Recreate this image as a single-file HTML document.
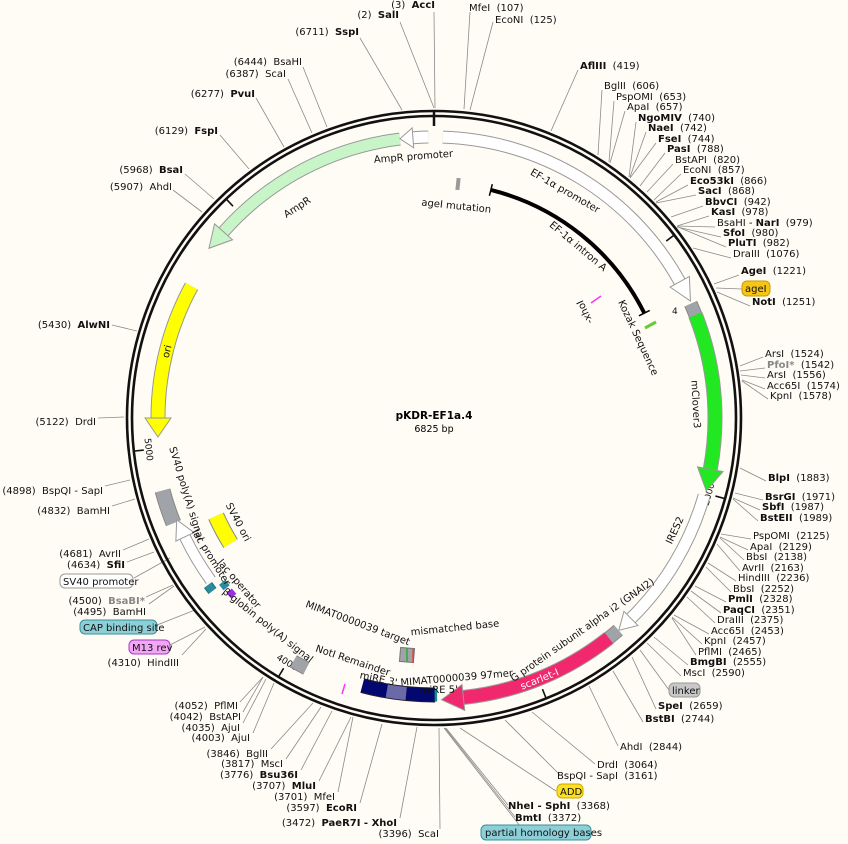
<!DOCTYPE html>
<html><head><meta charset="utf-8"><style>
html,body{margin:0;padding:0;background:#fffcf5;}
svg{display:block;font-family:"DejaVu Sans","Liberation Sans",sans-serif;font-size:10px;}
.b{font-weight:bold}
.g{fill:#888;font-weight:bold}
</style></head><body>
<svg width="848" height="844" viewBox="0 0 848 844" xmlns="http://www.w3.org/2000/svg">
<rect width="848" height="844" fill="#fffcf5"/>
<g stroke="#8a8a8a" stroke-width="0.8" fill="none">
<line x1="434" y1="12" x2="435" y2="108"/>
<line x1="400" y1="22" x2="434" y2="108"/>
<line x1="360" y1="38" x2="402" y2="110"/>
<line x1="470" y1="12" x2="464" y2="109"/>
<line x1="493" y1="22" x2="470" y2="110"/>
<line x1="578" y1="70" x2="551" y2="131"/>
<line x1="602" y1="90" x2="598" y2="155"/>
<line x1="614" y1="101" x2="609" y2="162"/>
<line x1="625" y1="111" x2="610" y2="163"/>
<line x1="636" y1="122" x2="629" y2="177"/>
<line x1="646" y1="132" x2="630" y2="177"/>
<line x1="656" y1="143" x2="630" y2="178"/>
<line x1="665" y1="153" x2="640" y2="186"/>
<line x1="673" y1="164" x2="647" y2="192"/>
<line x1="681" y1="174" x2="654" y2="200"/>
<line x1="688" y1="185" x2="656" y2="202"/>
<line x1="696" y1="195" x2="656" y2="203"/>
<line x1="703" y1="206" x2="671" y2="217"/>
<line x1="709" y1="216" x2="677" y2="226"/>
<line x1="715" y1="227" x2="677" y2="226"/>
<line x1="721" y1="237" x2="677" y2="227"/>
<line x1="726" y1="247" x2="678" y2="227"/>
<line x1="731" y1="258" x2="693" y2="248"/>
<line x1="739" y1="275" x2="714" y2="284"/>
<line x1="742" y1="289" x2="716" y2="288"/>
<line x1="750" y1="306" x2="717" y2="292"/>
<line x1="763" y1="357" x2="740" y2="366"/>
<line x1="765" y1="368" x2="740" y2="371"/>
<line x1="765" y1="378" x2="741" y2="375"/>
<line x1="765" y1="389" x2="742" y2="380"/>
<line x1="768" y1="399" x2="742" y2="381"/>
<line x1="766" y1="481" x2="740" y2="468"/>
<line x1="763" y1="500" x2="735" y2="493"/>
<line x1="760" y1="510" x2="733" y2="498"/>
<line x1="758" y1="521" x2="733" y2="499"/>
<line x1="751" y1="539" x2="721" y2="534"/>
<line x1="748" y1="550" x2="720" y2="537"/>
<line x1="744" y1="560" x2="720" y2="538"/>
<line x1="740" y1="571" x2="717" y2="544"/>
<line x1="736" y1="581" x2="708" y2="563"/>
<line x1="731" y1="592" x2="706" y2="567"/>
<line x1="726" y1="602" x2="695" y2="586"/>
<line x1="721" y1="613" x2="691" y2="591"/>
<line x1="715" y1="623" x2="687" y2="597"/>
<line x1="709" y1="634" x2="674" y2="615"/>
<line x1="702" y1="644" x2="672" y2="617"/>
<line x1="696" y1="655" x2="672" y2="618"/>
<line x1="688" y1="665" x2="654" y2="637"/>
<line x1="681" y1="676" x2="647" y2="643"/>
<line x1="669" y1="690" x2="640" y2="650"/>
<line x1="656" y1="709" x2="632" y2="657"/>
<line x1="643" y1="722" x2="613" y2="671"/>
<line x1="618" y1="746" x2="589" y2="686"/>
<line x1="595" y1="764" x2="532" y2="712"/>
<line x1="560" y1="775" x2="505" y2="720"/>
<line x1="556" y1="791" x2="460" y2="728"/>
<line x1="508" y1="805" x2="446" y2="728"/>
<line x1="515" y1="817" x2="445" y2="728"/>
<line x1="520" y1="826" x2="444" y2="728"/>
<line x1="440" y1="829" x2="439" y2="728"/>
<line x1="400" y1="818" x2="417" y2="727"/>
<line x1="360" y1="803" x2="382" y2="724"/>
<line x1="338" y1="792" x2="353" y2="717"/>
<line x1="319" y1="781" x2="351" y2="717"/>
<line x1="301" y1="770" x2="332" y2="711"/>
<line x1="286" y1="759" x2="321" y2="707"/>
<line x1="271" y1="749" x2="313" y2="703"/>
<line x1="253" y1="733" x2="274" y2="683"/>
<line x1="243" y1="723" x2="266" y2="679"/>
<line x1="243" y1="712" x2="263" y2="677"/>
<line x1="240" y1="702" x2="263" y2="677"/>
<line x1="182" y1="655" x2="206" y2="629"/>
<line x1="170" y1="645" x2="205" y2="627"/>
<line x1="157" y1="625" x2="195" y2="610"/>
<line x1="149" y1="604" x2="174" y2="586"/>
<line x1="146" y1="597" x2="173" y2="585"/>
<line x1="134" y1="578" x2="170" y2="558"/>
<line x1="127" y1="562" x2="154" y2="552"/>
<line x1="123" y1="550" x2="149" y2="539"/>
<line x1="112" y1="506" x2="135" y2="499"/>
<line x1="105" y1="486" x2="130" y2="480"/>
<line x1="98" y1="418" x2="124" y2="417"/>
<line x1="112" y1="325" x2="137" y2="331"/>
<line x1="173" y1="190" x2="202" y2="212"/>
<line x1="185" y1="174" x2="214" y2="199"/>
<line x1="220" y1="135" x2="249" y2="169"/>
<line x1="256" y1="98" x2="284" y2="147"/>
<line x1="288" y1="79" x2="312" y2="133"/>
<line x1="303" y1="67" x2="327" y2="127"/>
</g>
<circle cx="434" cy="418" r="307" fill="none" stroke="#111" stroke-width="2.6"/>
<circle cx="434" cy="418" r="302" fill="none" stroke="#111" stroke-width="2.6"/>
<g stroke="#111" stroke-width="1.6">
<line x1="434" y1="112" x2="434" y2="126" stroke-width="2.5"/>
<line x1="434" y1="116" x2="434" y2="126" transform="rotate(52.7 434 418)"/>
<line x1="434" y1="116" x2="434" y2="126" transform="rotate(105.5 434 418)"/>
<line x1="434" y1="116" x2="434" y2="126" transform="rotate(158.2 434 418)"/>
<line x1="434" y1="116" x2="434" y2="126" transform="rotate(211 434 418)"/>
<line x1="434" y1="116" x2="434" y2="126" transform="rotate(263.7 434 418)"/>
<line x1="434" y1="116" x2="434" y2="126" transform="rotate(316.5 434 418)"/>
</g>
<g font-size="9" text-anchor="middle" fill="#111">
<text x="434" y="138" transform="rotate(52.7 434 418)">1000</text>
<text x="434" y="706" transform="rotate(-74.5 434 418)">2000</text>
<text x="434" y="706" transform="rotate(-21.8 434 418)">3000</text>
<text x="434" y="706" transform="rotate(31 434 418)">4000</text>
<text x="434" y="708" transform="rotate(83.7 434 418)">5000</text>
<text x="434" y="138" transform="rotate(-43.5 434 418)">6000</text>
</g>
<g transform="rotate(-90 434 418)" fill="none">
<circle cx="434" cy="418" r="281" stroke="#999" stroke-width="13" stroke-dasharray="290.3 2000" stroke-dashoffset="-8.8"/>
<circle cx="434" cy="418" r="281" stroke="#fff" stroke-width="11" stroke-dasharray="290.3 2000" stroke-dashoffset="-8.8"/>
<circle cx="434" cy="418" r="281" stroke="#999" stroke-width="13" stroke-dasharray="15.2 2000" stroke-dashoffset="-1744.5"/>
<circle cx="434" cy="418" r="281" stroke="#fff" stroke-width="11" stroke-dasharray="15.2 2000" stroke-dashoffset="-1744.5"/>
<circle cx="434" cy="418" r="281" stroke="#999" stroke-width="13" stroke-dasharray="203.5 2000" stroke-dashoffset="-1527.7"/>
<circle cx="434" cy="418" r="281" stroke="#c8f5c8" stroke-width="11" stroke-dasharray="203.5 2000" stroke-dashoffset="-1527.7"/>
<circle cx="434" cy="418" r="276" stroke="#999" stroke-width="15" stroke-dasharray="137.3 2000" stroke-dashoffset="-1300.6"/>
<circle cx="434" cy="418" r="276" stroke="#ffff00" stroke-width="13" stroke-dasharray="137.3 2000" stroke-dashoffset="-1300.6"/>
<circle cx="434" cy="418" r="281" stroke="#888" stroke-width="14" stroke-dasharray="12.3 2000" stroke-dashoffset="-323.7"/>
<circle cx="434" cy="418" r="281" stroke="#a0a4a8" stroke-width="12" stroke-dasharray="12.3 2000" stroke-dashoffset="-323.7"/>
<circle cx="434" cy="418" r="281" stroke="#999" stroke-width="15" stroke-dasharray="156.9 2000" stroke-dashoffset="-335.9"/>
<circle cx="434" cy="418" r="281" stroke="#22e822" stroke-width="13" stroke-dasharray="156.9 2000" stroke-dashoffset="-335.9"/>
<circle cx="434" cy="418" r="281" stroke="#999" stroke-width="13" stroke-dasharray="144.7 2000" stroke-dashoffset="-519.9"/>
<circle cx="434" cy="418" r="281" stroke="#fff" stroke-width="11" stroke-dasharray="144.7 2000" stroke-dashoffset="-519.9"/>
<circle cx="434" cy="418" r="281" stroke="#888" stroke-width="14" stroke-dasharray="12.3 2000" stroke-dashoffset="-681.7"/>
<circle cx="434" cy="418" r="281" stroke="#a0a4a8" stroke-width="12" stroke-dasharray="12.3 2000" stroke-dashoffset="-681.7"/>
<circle cx="434" cy="418" r="281" stroke="#999" stroke-width="15" stroke-dasharray="159.4 2000" stroke-dashoffset="-694"/>
<circle cx="434" cy="418" r="281" stroke="#f2286e" stroke-width="13" stroke-dasharray="159.4 2000" stroke-dashoffset="-694"/>
<circle cx="434" cy="418" r="277" stroke="#222" stroke-width="15" stroke-dasharray="73.6 2000" stroke-dashoffset="-869"/>
<circle cx="434" cy="418" r="277" stroke="#020870" stroke-width="13" stroke-dasharray="73.6 2000" stroke-dashoffset="-869"/>
<circle cx="434" cy="418" r="277" stroke="#6a6aa8" stroke-width="13" stroke-dasharray="19.6 2000" stroke-dashoffset="-898"/>
<circle cx="434" cy="418" r="277" stroke="#1a8a8a" stroke-width="13" stroke-dasharray="2.5 2000" stroke-dashoffset="-867"/>
<circle cx="434" cy="418" r="281" stroke="#888" stroke-width="14" stroke-dasharray="14.7 2000" stroke-dashoffset="-1015.2"/>
<circle cx="434" cy="418" r="281" stroke="#a0a4a8" stroke-width="12" stroke-dasharray="14.7 2000" stroke-dashoffset="-1015.2"/>
<circle cx="434" cy="418" r="281" stroke="#888" stroke-width="16" stroke-dasharray="34.3 2000" stroke-dashoffset="-1216.3"/>
<circle cx="434" cy="418" r="281" stroke="#a0a4a8" stroke-width="14" stroke-dasharray="34.3 2000" stroke-dashoffset="-1216.3"/>
<circle cx="434" cy="418" r="276" stroke="#999" stroke-width="12" stroke-dasharray="51.5 2000" stroke-dashoffset="-1127"/>
<circle cx="434" cy="418" r="276" stroke="#fff" stroke-width="10" stroke-dasharray="51.5 2000" stroke-dashoffset="-1127"/>
<circle cx="434" cy="418" r="281" stroke="#1e6f7a" stroke-width="10" stroke-dasharray="7.4 2000" stroke-dashoffset="-1137.8"/>
<circle cx="434" cy="418" r="281" stroke="#2a8c9a" stroke-width="8" stroke-dasharray="7.4 2000" stroke-dashoffset="-1137.8"/>
<circle cx="434" cy="418" r="268" stroke="#2a8c9a" stroke-width="8" stroke-dasharray="7 2000" stroke-dashoffset="-1079"/>
<circle cx="434" cy="418" r="268" stroke="#9a30e0" stroke-width="7" stroke-dasharray="7 2000" stroke-dashoffset="-1068"/>
<circle cx="434" cy="418" r="239" stroke="#888" stroke-width="17" stroke-dasharray="31 2000" stroke-dashoffset="-994"/>
<circle cx="434" cy="418" r="239" stroke="#ffff00" stroke-width="15" stroke-dasharray="31 2000" stroke-dashoffset="-994"/>
<circle cx="434" cy="418" r="235" stroke="#000" stroke-width="4" stroke-dasharray="203 2000" stroke-dashoffset="-57.4"/>
</g>
<g stroke="#999" stroke-width="1">
<polygon points="434,126 456,137 434,148" fill="#fff" transform="rotate(61 434 418)"/>
<polygon points="434,127 421,137 434,147" fill="#fff" transform="rotate(-4.3 434 418)"/>
<polygon points="434,125 412,137 434,149" fill="#c8f5c8" transform="rotate(-48.5 434 418)"/>
<polygon points="434,129 415,142 434,155" fill="#ffff00" transform="rotate(-90 434 418)"/>
<polygon points="434,124 456,137 434,150" fill="#22e822" transform="rotate(100.5 434 418)"/>
<polygon points="434,127 451,137 434,147" fill="#fff" transform="rotate(135.5 434 418)"/>
<polygon points="434,124 456,137 434,150" fill="#f2286e" transform="rotate(174 434 418)"/>
<polygon points="434,132 453,142 434,152" fill="#fff" transform="rotate(244.5 434 418)"/>
</g>
<line x1="434" y1="177" x2="434" y2="189" stroke="#000" stroke-width="1.5" transform="rotate(14 434 418)"/>
<line x1="434" y1="177" x2="434" y2="189" stroke="#000" stroke-width="1.5" transform="rotate(63.5 434 418)"/>
<rect x="456" y="178" width="4" height="12" fill="#999" transform="rotate(6 458 184)"/>
<line x1="645" y1="328" x2="656" y2="322" stroke="#6c3" stroke-width="3"/>
<line x1="591" y1="303" x2="601" y2="296" stroke="#f3f" stroke-width="1.5"/>
<line x1="342" y1="694" x2="345" y2="684" stroke="#f3f" stroke-width="1.5"/>
<rect x="400" y="648" width="14" height="14" fill="#a0a4a8" stroke="#777" stroke-width="1" transform="rotate(5 407 655)"/>
<line x1="407" y1="648" x2="407" y2="662" stroke="#3a3" stroke-width="1.5"/>
<line x1="413" y1="649" x2="413" y2="663" stroke="#e33" stroke-width="1.2"/>
<g fill="#111" text-anchor="middle">
<text x="434" y="159" transform="rotate(-4.5 434 418)">AmpR promoter</text>
<text x="434" y="159" transform="rotate(30 434 418)">EF-1α promoter</text>
<text x="434" y="170" transform="rotate(-33 434 418)">AmpR</text>
<text x="434" y="197" transform="rotate(40 434 418)">EF-1α intron A</text>
<text x="434" y="208" transform="rotate(6 434 418)">ageI mutation</text>
<text x="434" y="159" transform="rotate(87 434 418)">mClover3</text>
<text x="434" y="146" transform="rotate(-76 434 418)">ori</text>
<text x="434" y="680" transform="rotate(73 434 418)">SV40 poly(A) signal</text>
<text x="434" y="643" transform="rotate(62 434 418)">SV40 ori</text>
<text x="434" y="684" transform="rotate(58 434 418)">lac promoter</text>
<text x="434" y="677" transform="rotate(49.6 434 418)">lac operator</text>
<text x="434" y="687" transform="rotate(38.7 434 418)">β-globin poly(A) signal</text>
<text x="434" y="687" transform="rotate(-65 434 418)">IRES2</text>
<text x="434" y="680" transform="rotate(-35 434 418)">G protein subunit alpha i2 (GNAI2)</text>
<text x="434" y="703" transform="rotate(-22 434 418)" fill="#fff">scarlet-I</text>
<text x="434" y="640" transform="rotate(20.4 434 418)">MIMAT0000039 target</text>
<text x="434" y="632" transform="rotate(-5.7 434 418)">mismatched base</text>
<text x="434" y="677" transform="rotate(18.5 434 418)">NotI Remainder</text>
<text x="434" y="682" transform="rotate(-5 434 418)">MIMAT0000039 97mer</text>
<text x="434" y="688" transform="rotate(12 434 418)">miRE 3'</text>
<text x="434" y="693" transform="rotate(-1 434 418)">miRE 5'</text>
</g>
<text x="618" y="302" fill="#111" transform="rotate(65 618 302)">Kozak Sequence</text>
<text x="593" y="322" fill="#111" transform="rotate(-115 593 322)">-xhoI</text>
<text x="672" y="314" fill="#111" font-size="9">4</text>
<text x="434" y="419" text-anchor="middle" class="b" font-size="10.5">pKDR-EF1a.4</text>
<text x="434" y="432" text-anchor="middle" font-size="9.5">6825 bp</text>
<rect x="742" y="281" width="28" height="15" rx="5" fill="#f5c518" stroke="#c99a00"/>
<text x="745" y="292" fill="#111">ageI</text>
<rect x="669" y="683" width="31" height="14" rx="5" fill="#c8c8c8" stroke="#999"/>
<text x="672" y="694" fill="#111">linker</text>
<rect x="557" y="784" width="26" height="14" rx="5" fill="#ffe020" stroke="#c9a800"/>
<text x="560" y="795" fill="#111">ADD</text>
<rect x="481" y="825" width="110" height="15" rx="5" fill="#8ccfd6" stroke="#3a8f99"/>
<text x="485" y="836" fill="#111">partial homology bases</text>
<rect x="80" y="620" width="77" height="14" rx="5" fill="#8ccfd6" stroke="#3a8f99"/>
<text x="83" y="631" fill="#111">CAP binding site</text>
<rect x="129" y="640" width="41" height="14" rx="5" fill="#f3a6f6" stroke="#a33cc8"/>
<text x="132" y="651" fill="#111">M13 rev</text>
<rect x="60" y="574" width="73" height="14" rx="5" fill="#fff" stroke="#999"/>
<text x="63" y="585" fill="#111">SV40 promoter</text>
<g fill="#111">
<text x="469" y="11">MfeI&#160; (107)</text>
<text x="495" y="23">EcoNI&#160; (125)</text>
<text x="580" y="69"><tspan class="b">AflIII</tspan>&#160; (419)</text>
<text x="604" y="89">BglII&#160; (606)</text>
<text x="616" y="100">PspOMI&#160; (653)</text>
<text x="627" y="110">ApaI&#160; (657)</text>
<text x="638" y="121"><tspan class="b">NgoMIV</tspan>&#160; (740)</text>
<text x="648" y="131"><tspan class="b">NaeI</tspan>&#160; (742)</text>
<text x="658" y="142"><tspan class="b">FseI</tspan>&#160; (744)</text>
<text x="667" y="152"><tspan class="b">PasI</tspan>&#160; (788)</text>
<text x="675" y="163">BstAPI&#160; (820)</text>
<text x="683" y="173">EcoNI&#160; (857)</text>
<text x="690" y="184"><tspan class="b">Eco53kI</tspan>&#160; (866)</text>
<text x="698" y="194"><tspan class="b">SacI</tspan>&#160; (868)</text>
<text x="705" y="205"><tspan class="b">BbvCI</tspan>&#160; (942)</text>
<text x="711" y="215"><tspan class="b">KasI</tspan>&#160; (978)</text>
<text x="717" y="226">BsaHI - <tspan class="b">NarI</tspan>&#160; (979)</text>
<text x="723" y="236"><tspan class="b">SfoI</tspan>&#160; (980)</text>
<text x="728" y="246"><tspan class="b">PluTI</tspan>&#160; (982)</text>
<text x="733" y="257">DraIII&#160; (1076)</text>
<text x="741" y="274"><tspan class="b">AgeI</tspan>&#160; (1221)</text>
<text x="752" y="305"><tspan class="b">NotI</tspan>&#160; (1251)</text>
<text x="765" y="357">ArsI&#160; (1524)</text>
<text x="767" y="368"><tspan class="g">PfoI*</tspan>&#160; (1542)</text>
<text x="767" y="378">ArsI&#160; (1556)</text>
<text x="767" y="389">Acc65I&#160; (1574)</text>
<text x="770" y="399">KpnI&#160; (1578)</text>
<text x="768" y="481"><tspan class="b">BlpI</tspan>&#160; (1883)</text>
<text x="765" y="500"><tspan class="b">BsrGI</tspan>&#160; (1971)</text>
<text x="762" y="510"><tspan class="b">SbfI</tspan>&#160; (1987)</text>
<text x="760" y="521"><tspan class="b">BstEII</tspan>&#160; (1989)</text>
<text x="753" y="539">PspOMI&#160; (2125)</text>
<text x="750" y="550">ApaI&#160; (2129)</text>
<text x="746" y="560">BbsI&#160; (2138)</text>
<text x="742" y="571">AvrII&#160; (2163)</text>
<text x="738" y="581">HindIII&#160; (2236)</text>
<text x="733" y="592">BbsI&#160; (2252)</text>
<text x="728" y="602"><tspan class="b">PmlI</tspan>&#160; (2328)</text>
<text x="723" y="613"><tspan class="b">PaqCI</tspan>&#160; (2351)</text>
<text x="717" y="623">DraIII&#160; (2375)</text>
<text x="711" y="634">Acc65I&#160; (2453)</text>
<text x="704" y="644">KpnI&#160; (2457)</text>
<text x="698" y="655">PflMI&#160; (2465)</text>
<text x="690" y="665"><tspan class="b">BmgBI</tspan>&#160; (2555)</text>
<text x="683" y="676">MscI&#160; (2590)</text>
<text x="658" y="709"><tspan class="b">SpeI</tspan>&#160; (2659)</text>
<text x="645" y="722"><tspan class="b">BstBI</tspan>&#160; (2744)</text>
<text x="620" y="750">AhdI&#160; (2844)</text>
<text x="597" y="768">DrdI&#160; (3064)</text>
<text x="557" y="779">BspQI - SapI&#160; (3161)</text>
<text x="508" y="809"><tspan class="b">NheI - SphI</tspan>&#160; (3368)</text>
<text x="515" y="821"><tspan class="b">BmtI</tspan>&#160; (3372)</text>
</g>
<g fill="#111" text-anchor="end">
<text x="435" y="8">(3)&#160; <tspan class="b">AccI</tspan></text>
<text x="399" y="18">(2)&#160; <tspan class="b">SalI</tspan></text>
<text x="359" y="35">(6711)&#160; <tspan class="b">SspI</tspan></text>
<text x="302" y="65">(6444)&#160; BsaHI</text>
<text x="286" y="77">(6387)&#160; ScaI</text>
<text x="255" y="97">(6277)&#160; <tspan class="b">PvuI</tspan></text>
<text x="218" y="134">(6129)&#160; <tspan class="b">FspI</tspan></text>
<text x="183" y="173">(5968)&#160; <tspan class="b">BsaI</tspan></text>
<text x="172" y="190">(5907)&#160; AhdI</text>
<text x="110" y="328">(5430)&#160; <tspan class="b">AlwNI</tspan></text>
<text x="96" y="425">(5122)&#160; DrdI</text>
<text x="103" y="494">(4898)&#160; BspQI - SapI</text>
<text x="110" y="514">(4832)&#160; BamHI</text>
<text x="121" y="557">(4681)&#160; AvrII</text>
<text x="125" y="568">(4634)&#160; <tspan class="b">SfiI</tspan></text>
<text x="145" y="604">(4500)&#160; <tspan class="g">BsaBI*</tspan></text>
<text x="146" y="615">(4495)&#160; BamHI</text>
<text x="179" y="666">(4310)&#160; HindIII</text>
<text x="238" y="709">(4052)&#160; PflMI</text>
<text x="241" y="720">(4042)&#160; BstAPI</text>
<text x="240" y="731">(4035)&#160; AjuI</text>
<text x="250" y="741">(4003)&#160; AjuI</text>
<text x="268" y="757">(3846)&#160; BglII</text>
<text x="283" y="767">(3817)&#160; MscI</text>
<text x="298" y="778">(3776)&#160; <tspan class="b">Bsu36I</tspan></text>
<text x="316" y="789">(3707)&#160; <tspan class="b">MluI</tspan></text>
<text x="335" y="800">(3701)&#160; MfeI</text>
<text x="357" y="811">(3597)&#160; <tspan class="b">EcoRI</tspan></text>
<text x="397" y="826">(3472)&#160; <tspan class="b">PaeR7I - XhoI</tspan></text>
<text x="439" y="837">(3396)&#160; ScaI</text>
</g>
</svg>
</body></html>
